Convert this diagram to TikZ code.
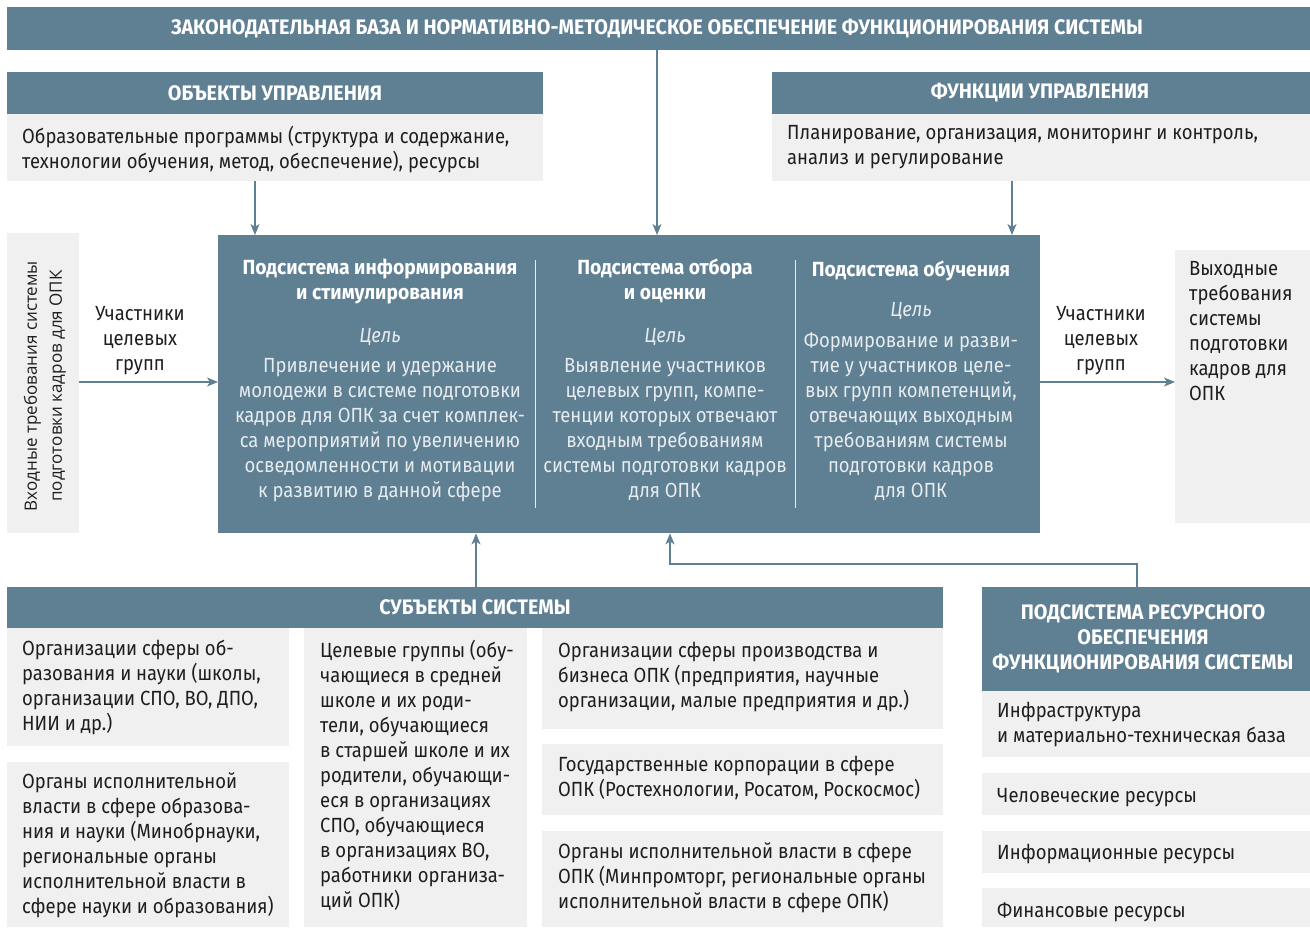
\documentclass[tikz,border=0pt]{standalone}
\usepackage{fontspec}
\setmainfont{Fira Sans}[FakeStretch=0.9]
\newfontfamily\hfont{Fira Sans}[FakeStretch=0.94]
\newfontfamily\vertfont{Open Sans}
\usetikzlibrary{arrows.meta}
\definecolor{hdr}{HTML}{5F7F92}
\definecolor{lite}{HTML}{F0F0F0}
\definecolor{ink}{HTML}{1E1E1E}
\definecolor{soft}{HTML}{E6ECF0}
\newcommand\mybox[6]{\node[#2, minimum width={(#5-#3)*1pt}, minimum height={(#6-#4)*1pt}] (#1) at (#3,#4) {};}
\begin{document}
\begin{tikzpicture}[x=1pt,y=-1pt,
  hbox/.style={fill=hdr, draw=none, inner sep=0, anchor=north west},
  gbox/.style={fill=lite, draw=none, inner sep=0, anchor=north west},
  body/.style={inner sep=0, yshift=-3pt, font=\fontsize{20.5}{25}\selectfont, text=ink, execute at begin node=\strut},
  ltxt/.style={body, anchor=north west, align=left},
  ctxt/.style={body, anchor=north, align=center},
  head/.style={inner sep=0, font=\hfont\fontsize{21}{25}\selectfont\bfseries, text=white, align=center},
  wtitle/.style={inner sep=0, yshift=-3pt, anchor=north, align=center, font=\hfont\fontsize{20.5}{25}\selectfont\bfseries, text=white, execute at begin node=\strut},
  wgoal/.style={inner sep=0, yshift=-3pt, anchor=north, align=center, font=\fontsize{20.5}{25}\selectfont\itshape, text=soft, execute at begin node=\strut},
  wbody/.style={inner sep=0, yshift=-3pt, anchor=north, align=center, font=\fontsize{20.5}{25}\selectfont, text=soft, execute at begin node=\strut},
  arr/.style={draw=hdr, line width=1.4pt, -{Stealth[length=11pt,width=9pt,inset=3pt]}},
  ln/.style={draw=hdr, line width=1.4pt},
  divl/.style={draw=soft, line width=0.8pt}]
\useasboundingbox (0,0) rectangle (1310,927);
\fill[white] (0,0) rectangle (1310,927);

% top banner
\mybox{banner}{hbox}{7}{7}{1310}{50}
\node[head] (bannert) at (657,28.5) {ЗАКОНОДАТЕЛЬНАЯ БАЗА И НОРМАТИВНО-МЕТОДИЧЕСКОЕ ОБЕСПЕЧЕНИЕ ФУНКЦИОНИРОВАНИЯ СИСТЕМЫ};

% objects
\mybox{objh}{hbox}{7}{72}{543}{114}
\node[head] (objht) at (275,93) {ОБЪЕКТЫ УПРАВЛЕНИЯ};
\mybox{objb}{gbox}{7}{114}{543}{181}
\node[ltxt] (objbt) at (22,122.5) {Образовательные программы (структура и содержание,\\технологии обучения, метод, обеспечение), ресурсы};

% functions
\mybox{funh}{hbox}{772}{72}{1310}{114}
\node[head] (funht) at (1040,93) {ФУНКЦИИ УПРАВЛЕНИЯ};
\mybox{funb}{gbox}{772}{114}{1310}{181}
\node[ltxt] (funbt) at (787,122.5) {Планирование, организация, мониторинг и контроль,\\анализ и регулирование};

% main box
\mybox{main}{hbox}{218}{235}{1040}{533}
\coordinate (d1a) at (535,260); \coordinate (d1b) at (535,508);
\coordinate (d2a) at (795,260); \coordinate (d2b) at (795,508);
\draw[divl] (d1a) -- (d1b);
\draw[divl] (d2a) -- (d2b);

\node[wtitle] (t1) at (380,255.5) {Подсистема информирования\\и стимулирования};
\node[wgoal] (g1) at (380,321.5) {Цель};
\node[wbody] (b1) at (380,355.5) {Привлечение и удержание\\молодежи в системе подготовки\\кадров для ОПК за счет комплек-\\са мероприятий по увеличению\\осведомленности и мотивации\\к развитию в данной сфере};

\node[wtitle] (t2) at (665,255.5) {Подсистема отбора\\и оценки};
\node[wgoal] (g2) at (665,321.5) {Цель};
\node[wbody] (b2) at (665,355.5) {Выявление участников\\целевых групп, компе-\\тенции которых отвечают\\входным требованиям\\системы подготовки кадров\\для ОПК};

\node[wtitle] (t3) at (911,255.5) {Подсистема обучения};
\node[wgoal] (g3) at (911,295.5) {Цель};
\node[wbody] (b3) at (911,329.5) {Формирование и разви-\\тие у участников целе-\\вых групп компетенций,\\отвечающих выходным\\требованиям системы\\подготовки кадров\\для ОПК};

% left input box
\mybox{inb}{gbox}{7}{233}{79}{533}
\node[inner sep=0, rotate=90, align=center, font=\vertfont\fontsize{17}{25}\selectfont, text=ink] (inbt) at (45,386) {Входные требования системы\\подготовки кадров для ОПК};

% right output box
\mybox{outb}{gbox}{1175}{250}{1310}{523}
\node[ltxt] (outbt) at (1189,258.5) {Выходные\\требования\\системы\\подготовки\\кадров для\\ОПК};

% participants labels
\node[ctxt] (pl) at (140,303.5) {Участники\\целевых\\групп};
\node[ctxt] (pr) at (1101,303.5) {Участники\\целевых\\групп};

% arrows top
\coordinate (xa) at (657,0);
\coordinate (xb) at (255,0);
\coordinate (xc) at (1012,0);
\draw[arr] (banner.south -| xa) -- (main.north -| xa);
\draw[arr] (objb.south -| xb) -- (main.north -| xb);
\draw[arr] (funb.south -| xc) -- (main.north -| xc);
% side arrows
\coordinate (ya) at (0,382);
\draw[arr] (inb.east |- ya) -- (main.west |- ya);
\draw[arr] (main.east |- ya) -- (outb.west |- ya);

% subjects
\mybox{subh}{hbox}{7}{587}{943}{628}
\node[head] (subht) at (475,607) {СУБЪЕКТЫ СИСТЕМЫ};
\mybox{s1}{gbox}{7}{628}{289}{746}
\node[ltxt] (s1t) at (22,636.5) {Организации сферы об-\\разования и науки (школы,\\организации СПО, ВО, ДПО,\\НИИ и др.)};
\mybox{s2}{gbox}{7}{762}{289}{927}
\node[ltxt] (s2t) at (22,769.5) {Органы исполнительной\\власти в сфере образова-\\ния и науки (Минобрнауки,\\региональные органы\\исполнительной власти в\\сфере науки и образования)};
\mybox{s3}{gbox}{304}{628}{527}{927}
\node[ltxt] (s3t) at (320,636.5) {Целевые группы (обу-\\чающиеся в средней\\школе и их роди-\\тели, обучающиеся\\в старшей школе и их\\родители, обучающи-\\еся в организациях\\СПО, обучающиеся\\в организациях ВО,\\работники организа-\\ций ОПК)};
\mybox{s4}{gbox}{542}{628}{943}{729}
\node[ltxt] (s4t) at (558,638.5) {Организации сферы производства и\\бизнеса ОПК (предприятия, научные\\организации, малые предприятия и др.)};
\mybox{s5}{gbox}{542}{744}{943}{815}
\node[ltxt] (s5t) at (558,752.5) {Государственные корпорации в сфере\\ОПК (Ростехнологии, Росатом, Роскосмос)};
\mybox{s6}{gbox}{542}{831}{943}{927}
\node[ltxt] (s6t) at (558,839.5) {Органы исполнительной власти в сфере\\ОПК (Минпромторг, региональные органы\\исполнительной власти в сфере ОПК)};

% resources
\mybox{resh}{hbox}{982}{587}{1310}{691}
\node[head, anchor=north, yshift=-3pt] (resht) at (1143,598.5) {\strut ПОДСИСТЕМА РЕСУРСНОГО\\ОБЕСПЕЧЕНИЯ\\ФУНКЦИОНИРОВАНИЯ СИСТЕМЫ};
\mybox{r1}{gbox}{982}{691}{1310}{757}
\node[ltxt] (r1t) at (997,698.5) {Инфраструктура\\и материально-техническая база};
\mybox{r2}{gbox}{982}{773}{1310}{815}
\node[ltxt] (r2t) at (997,781.5) {Человеческие ресурсы};
\mybox{r3}{gbox}{982}{831}{1310}{873}
\node[ltxt] (r3t) at (997,838.5) {Информационные ресурсы};
\mybox{r4}{gbox}{982}{888}{1310}{927}
\node[ltxt] (r4t) at (997,896.5) {Финансовые ресурсы};

% bottom arrows
\coordinate (xd) at (476,0);
\coordinate (xe) at (670,0);
\coordinate (xf) at (1137,0);
\coordinate (ye) at (0,564);
\draw[arr] (subh.north -| xd) -- (main.south -| xd);
\draw[arr] (resh.north -| xf) -- (xf |- ye) -- (xe |- ye) -- (main.south -| xe);
\end{tikzpicture}
\end{document}
